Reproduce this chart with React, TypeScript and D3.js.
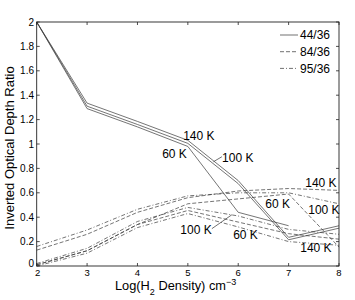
import React from "react";
import * as d3 from "d3";

const densities = [2, 3, 4, 5, 6, 7, 8];

// 44/36 (solid)
const solid140 = [2.0, 1.335, 1.185, 1.03, 0.7, 0.235, 0.33];
const solid100 = [2.0, 1.31, 1.16, 1.005, 0.675, 0.215, 0.31];
const solid60 = [2.0, 1.29, 1.14, 0.98, 0.44, 0.33];

// 84/36 (dashed)
const dashedA = [0.13, 0.26, 0.44, 0.56, 0.615, 0.635, 0.62];
const dashedB = [0.01, 0.125, 0.34, 0.51, 0.55, 0.59, 0.155];
const dashedC = [0.01, 0.125, 0.34, 0.455, 0.36, 0.265, 0.22];

// 95/36 (dash-dot)
const dashDotA = [0.16, 0.295, 0.465, 0.575, 0.6, 0.6, 0.51];
const dashDotB = [0.02, 0.145, 0.365, 0.48, 0.41, 0.3, 0.26];
const dashDotC = [0.0, 0.105, 0.315, 0.43, 0.32, 0.2, 0.17];

const xTicks = [2, 3, 4, 5, 6, 7, 8];
const yTicks = [0, 0.2, 0.4, 0.6, 0.8, 1, 1.2, 1.4, 1.6, 1.8, 2];

const legendLabels = ["44/36", "84/36", "95/36"];
const legendDash = ["none", "4,2", "4,2,1,2"];

const labelTexts = ["140 K", "60 K", "100 K", "140 K", "60 K", "100 K", "100 K", "60 K", "140 K"];
const labelX = [4.907, 4.49, 5.68, 7.33, 6.536, 7.39, 4.85, 5.9, 7.23];
const labelY = [1.033, 0.885, 0.852, 0.648, 0.475, 0.426, 0.262, 0.221, 0.115];

const leaderX1 = [5.676, 5.477];
const leaderY1 = [0.896, 0.306];
const leaderX2 = [5.509, 5.874];
const leaderY2 = [0.855, 0.42];

const W = 355;
const H = 300;
const font = "'Liberation Sans', Arial, Helvetica, sans-serif";

export default function App() {
  const x = d3.scaleLinear().domain([2, 8]).range([36.7, 339]);
  const y = d3.scaleLinear().domain([0, 2]).range([266, 22]);
  const line = d3
    .line<[number, number]>()
    .x((d) => x(d[0]))
    .y((d) => y(d[1]));
  const pts = (vals: number[]) => vals.map((v, i) => [densities[i], v] as [number, number]);

  const series = [
    { v: solid140, dash: "none" },
    { v: solid100, dash: "none" },
    { v: solid60, dash: "none" },
    { v: dashedA, dash: "4,2" },
    { v: dashedB, dash: "4,2" },
    { v: dashedC, dash: "4,2" },
    { v: dashDotA, dash: "4,2,1,2" },
    { v: dashDotB, dash: "4,2,1,2" },
    { v: dashDotC, dash: "4,2,1,2" },
  ];

  const [x0, x1] = x.range();
  const [y0, y1] = y.range();
  const tl = 3;

  return (
    <svg
      width={W}
      height={H}
      style={{ position: "absolute", left: 0, top: 0, background: "#fff" }}
      fontFamily={font}
    >
      <rect x={0} y={0} width={W} height={H} fill="#fff" />
      {series.map((s, i) => (
        <path
          key={i}
          d={line(pts(s.v)) || ""}
          fill="none"
          stroke="#3a3a3a"
          strokeWidth={0.7}
          strokeDasharray={s.dash}
        />
      ))}
      {/* axes box */}
      <rect x={x0} y={y1} width={x1 - x0} height={y0 - y1} fill="none" stroke="#222" strokeWidth={0.9} />
      {xTicks.map((t) => (
        <g key={"x" + t}>
          <line x1={x(t)} x2={x(t)} y1={y0} y2={y0 - tl} stroke="#222" strokeWidth={0.8} />
          <line x1={x(t)} x2={x(t)} y1={y1} y2={y1 + tl} stroke="#222" strokeWidth={0.8} />
          <text x={x(t) + (t === 2 ? 1 : 0)} y={276} fontSize={9.5} textAnchor="middle" fill="#000">
            {t}
          </text>
        </g>
      ))}
      {yTicks.map((t) => (
        <g key={"y" + t}>
          <line x1={x0} x2={x0 + tl} y1={y(t)} y2={y(t)} stroke="#222" strokeWidth={0.8} />
          <line x1={x1} x2={x1 - tl} y1={y(t)} y2={y(t)} stroke="#222" strokeWidth={0.8} />
          <text x={34} y={y(t)} dy={t === 0 ? "0.1em" : "0.35em"} fontSize={10} textAnchor="end" fill="#000">
            {String(+t.toFixed(1))}
          </text>
        </g>
      ))}
      {/* axis titles */}
      <text
        transform={`translate(14,148) rotate(-90)`}
        fontSize={13}
        textAnchor="middle"
        fill="#000"
      >
        Inverted Optical Depth Ratio
      </text>
      <text x={115} y={289.5} fontSize={12.8} fill="#000">
        Log(H
        <tspan fontSize={9} dy={5}>2</tspan>
        <tspan dy={-5}> Density) cm</tspan>
        <tspan fontSize={9} dy={-5}>−3</tspan>
      </text>
      {/* legend */}
      {legendLabels.map((l, i) => (
        <g key={l}>
          <line
            x1={280}
            x2={298}
            y1={35 + i * 16.7}
            y2={35 + i * 16.7}
            stroke="#333"
            strokeWidth={0.7}
            strokeDasharray={legendDash[i]}
          />
          <text x={300} y={35 + i * 16.7} dy="0.35em" fontSize={12} fill="#000">
            {l}
          </text>
        </g>
      ))}
      {/* annotations */}
      {labelTexts.map((t, i) => (
        <text key={"l" + i} x={x(labelX[i])} y={y(labelY[i])} fontSize={12} fill="#000">
          {t}
        </text>
      ))}
      {leaderX1.map((lx, i) => (
        <line
          key={"ld" + i}
          x1={x(lx)}
          y1={y(leaderY1[i])}
          x2={x(leaderX2[i])}
          y2={y(leaderY2[i])}
          stroke="#333"
          strokeWidth={0.7}
        />
      ))}
    </svg>
  );
}
